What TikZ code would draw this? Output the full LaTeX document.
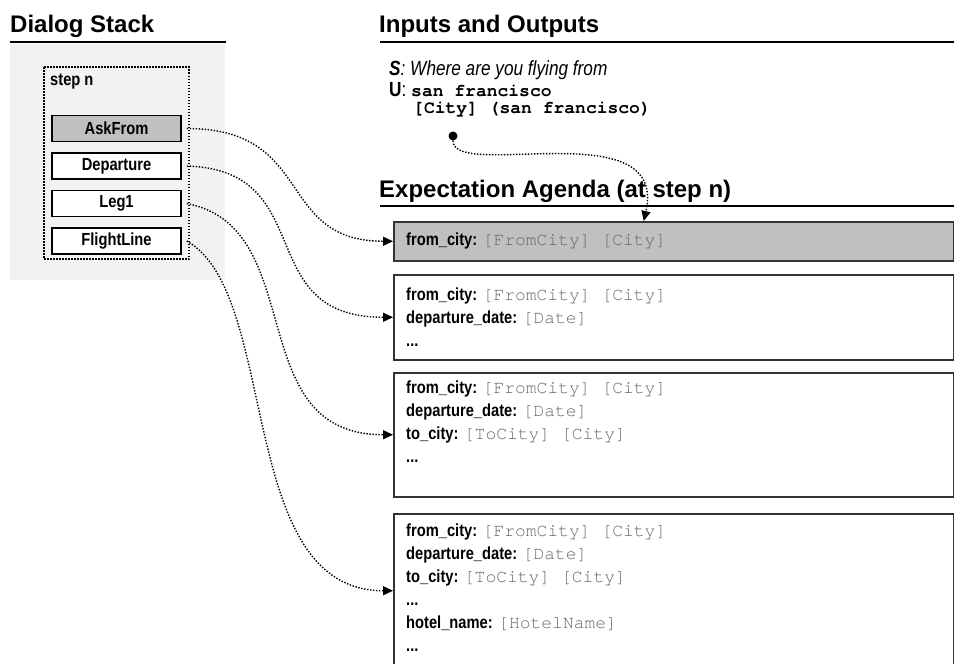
\documentclass[tikz,border=0pt]{standalone}
\usepackage{fontspec}
\setmainfont{Liberation Sans}
\setmonofont{texgyrecursor}[Extension=.otf, UprightFont=*-regular, BoldFont=*-bold]
\newfontfamily\narrowsf{Liberation Sans}[FakeStretch=0.84]
\usepackage{tikz}
\usetikzlibrary{positioning}
\usetikzlibrary{arrows.meta}
\definecolor{panelgray}{HTML}{F2F2F2}
\definecolor{activegray}{HTML}{C0C0C0}
\definecolor{slotgray}{HTML}{666666}
\newcommand{\slotval}[1]{{\ttfamily\fontsize{18}{23}\selectfont\color{slotgray}#1}}
\newcommand{\userval}[1]{{\ttfamily\bfseries\fontsize{18}{20}\selectfont #1}}
\tikzset{
	headline/.style={anchor=base west, inner sep=0pt,
			font=\fontsize{24}{28}\selectfont\bfseries},
	headrule/.style={line width=2pt},
	stepframe/.style={line width=1.5pt, dash pattern=on 1.5pt off 1.5pt},
	stackbox/.style={ % one frame of the stack
			draw, line width=1.5pt, fill=white,
			minimum width=129pt, minimum height=26pt, inner sep=0pt,
			font=\narrowsf\bfseries\fontsize{17.5}{21}\selectfont
		},
	agendabox/.style={
			draw=black!80, line width=1.5pt, fill=white,
			anchor=north west, minimum width=560pt, inner sep=0pt
		},
	agendatext/.style={anchor=north west, inner sep=0pt, align=left,
			font=\narrowsf\fontsize{17.5}{23}\selectfont},
	link/.style={ % dotted connectors
			line width=1.4pt, dash pattern=on 1.4pt off 1.6pt,
			-{Triangle[length=10pt, width=9pt]}
		}
}

\begin{document}
\begin{tikzpicture}[x=1pt, y=-1pt, node distance=10pt]
	\useasboundingbox[fill=white] (0,0) rectangle (954,664);

	% Headings
	\node (stacktitle) [headline] at (10,32) {Dialog Stack};
	\node (iotitle) [headline] at (379,32) {Inputs and Outputs};
	\node (agendatitle) [headline] at (379,197) {Expectation Agenda (at step n)};
	\draw[headrule] (10,42) -- (226,42);
	\draw[headrule] (380,42) -- (954,42);
	\draw[headrule] (380,206) -- (954,206);

	% Dialog stack
	\fill[panelgray] (10,44) rectangle (225,280);
	\draw[stepframe] (44,67) rectangle (189,259);
	\node (stepn) [anchor=base west, inner sep=0pt,
		font=\narrowsf\bfseries\fontsize{17.5}{21}\selectfont] at (50,85) {step n};
	\node (askfrom) [stackbox, fill=activegray] at (116.5,128.5) {AskFrom};
	\node (departure) [stackbox, below=of askfrom] {Departure};
	\node (leg) [stackbox, below=of departure] {Leg1};
	\node (flightline) [stackbox, below=of leg] {FlightLine};

	% Inputs and outputs
	\node (sline) [anchor=base west, inner sep=0pt, font=\narrowsf\fontsize{20.5}{22}\selectfont\itshape]
		at (389,75) {\textbf{S}: Where are you flying from};
	\node (uline) [anchor=base west, inner sep=0pt, font=\narrowsf\fontsize{20.5}{22}\selectfont]
		at (389,96) {\textbf{U}: \userval{san francisco}};
	\node (cityline) [anchor=base west, inner sep=0pt] at (413,113) {\userval{[City] (san francisco)}};
	\node (citydot) [circle, fill, inner sep=0pt, minimum size=9pt] at (453,136) {};

	% Expectation agenda
	\node (agenda1) [agendabox, fill=activegray, minimum height=39pt] at (393,221) {};
	\node (agenda2) [agendabox, minimum height=85pt] at (393,274) {};
	\node (agenda3) [agendabox, minimum height=124pt] at (393,372) {};
	\node (agenda4) [agendabox, minimum height=154pt] at (393,513) {};

	\node (fields1) [agendatext] at ([shift={(13,12)}]agenda1.north west) {%
		\textbf{from\_city:} \slotval{[FromCity] [City]}};
	\node (fields2) [agendatext] at ([shift={(13,14)}]agenda2.north west) {%
		\textbf{from\_city:} \slotval{[FromCity] [City]}\\
		\textbf{departure\_date:} \slotval{[Date]}\\
		\textbf{...}};
	\node (fields3) [agendatext] at ([shift={(13,9)}]agenda3.north west) {%
		\textbf{from\_city:} \slotval{[FromCity] [City]}\\
		\textbf{departure\_date:} \slotval{[Date]}\\
		\textbf{to\_city:} \slotval{[ToCity] [City]}\\
		\textbf{...}};
	\node (fields4) [agendatext] at ([shift={(13,11)}]agenda4.north west) {%
		\textbf{from\_city:} \slotval{[FromCity] [City]}\\
		\textbf{departure\_date:} \slotval{[Date]}\\
		\textbf{to\_city:} \slotval{[ToCity] [City]}\\
		\textbf{...}\\
		\textbf{hotel\_name:} \slotval{[HotelName]}\\
		\textbf{...}};

	% Links
	\draw[link] ([xshift=5pt]askfrom.east) .. controls +(129,0) and +(-118,0) .. (agenda1.west);
	\draw[link] ([xshift=5pt]departure.east) .. controls +(134,4) and +(-143,0) .. (agenda2.west);
	\draw[link] ([xshift=5pt]leg.east) .. controls +(124,24) and +(-153,0) .. (agenda3.west);
	\draw[link] ([xshift=5pt]flightline.east) .. controls +(94,53) and +(-158,0) .. (agenda4.west);
	\draw[link] (citydot) .. controls +(0,45) and +(25,-110) .. ([xshift=-30pt]agenda1.north);

\end{tikzpicture}
\end{document}
